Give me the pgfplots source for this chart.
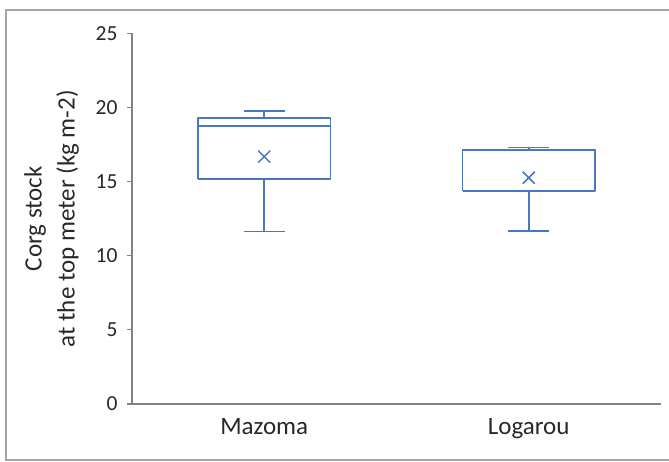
\documentclass[border=0pt]{standalone}
\usepackage{pgfplots}
\pgfplotsset{compat=1.18}
\usepackage{fontspec}
\setmainfont{Carlito}
\definecolor{boxblue}{RGB}{74,118,196}
\definecolor{axgray}{RGB}{130,130,130}
\definecolor{framegray}{RGB}{165,165,165}
\definecolor{txt}{RGB}{40,40,40}
\begin{document}
\begin{tikzpicture}[x=1pt,y=1pt]
\useasboundingbox (-132,-58) rectangle (537,404);
\draw[framegray, line width=1.3pt] (540,394) -- (-126,394) -- (-126,-56) -- (540,-56);
\begin{axis}[
  at={(0,0)}, anchor=south west,
  scale only axis, width=529pt, height=370.5pt,
  xmin=-0.5, xmax=1.5, ymin=0, ymax=25,
  axis lines*=left,
  axis line style={draw=axgray, line width=1.2pt},
  ytick={0,5,10,15,20,25},
  xtick={0,1}, xticklabels={Mazoma,Logarou},
  x tick style={draw=none},
  y tick style={draw=axgray, line width=1.2pt},
  tick align=outside, major tick length=5pt,
  /pgf/number format/assume math mode=true,
  y tick label style={font=\fontsize{21.5}{25}\selectfont, text=txt, xshift=-6pt},
  x tick label style={font=\fontsize{25}{29}\selectfont, text=txt, yshift=-6pt},
  ylabel={Corg stock\\at the top meter (kg m-2)},
  ylabel style={at={(axis description cs:-0.152,0.5)}, anchor=center, align=center,
    font=\fontsize{25}{33}\selectfont, text=txt},
  clip=false,
  unbounded coords=jump,
]
% Mazoma: box, median, whiskers, caps
\addplot[draw=boxblue, line width=1.6pt, line join=round, mark=none] coordinates {
  (-0.25,15.18) (0.25,15.18) (0.25,19.28) (-0.25,19.28) (-0.25,15.18)
  (nan,nan) (-0.25,18.76) (0.25,18.76)
  (nan,nan) (0,19.28) (0,19.77)
  (nan,nan) (-0.0775,19.77) (0.0775,19.77)
  (nan,nan) (0,15.18) (0,11.63)
  (nan,nan) (-0.0775,11.63) (0.0775,11.63)
};
% Logarou
\addplot[draw=boxblue, line width=1.6pt, line join=round, mark=none] coordinates {
  (0.75,14.37) (1.25,14.37) (1.25,17.17) (0.75,17.17) (0.75,14.37)
  (nan,nan) (0.75,17.10) (1.25,17.10)
  (nan,nan) (1,17.17) (1,17.32)
  (nan,nan) (0.9225,17.32) (1.0775,17.32)
  (nan,nan) (1,14.37) (1,11.67)
  (nan,nan) (0.9225,11.67) (1.0775,11.67)
};
% means
\addplot[only marks, mark=x, mark size=8.5pt, draw=boxblue, line width=1.5pt]
  coordinates {(0,16.69) (1,15.27)};
\end{axis}
\end{tikzpicture}
\end{document}
